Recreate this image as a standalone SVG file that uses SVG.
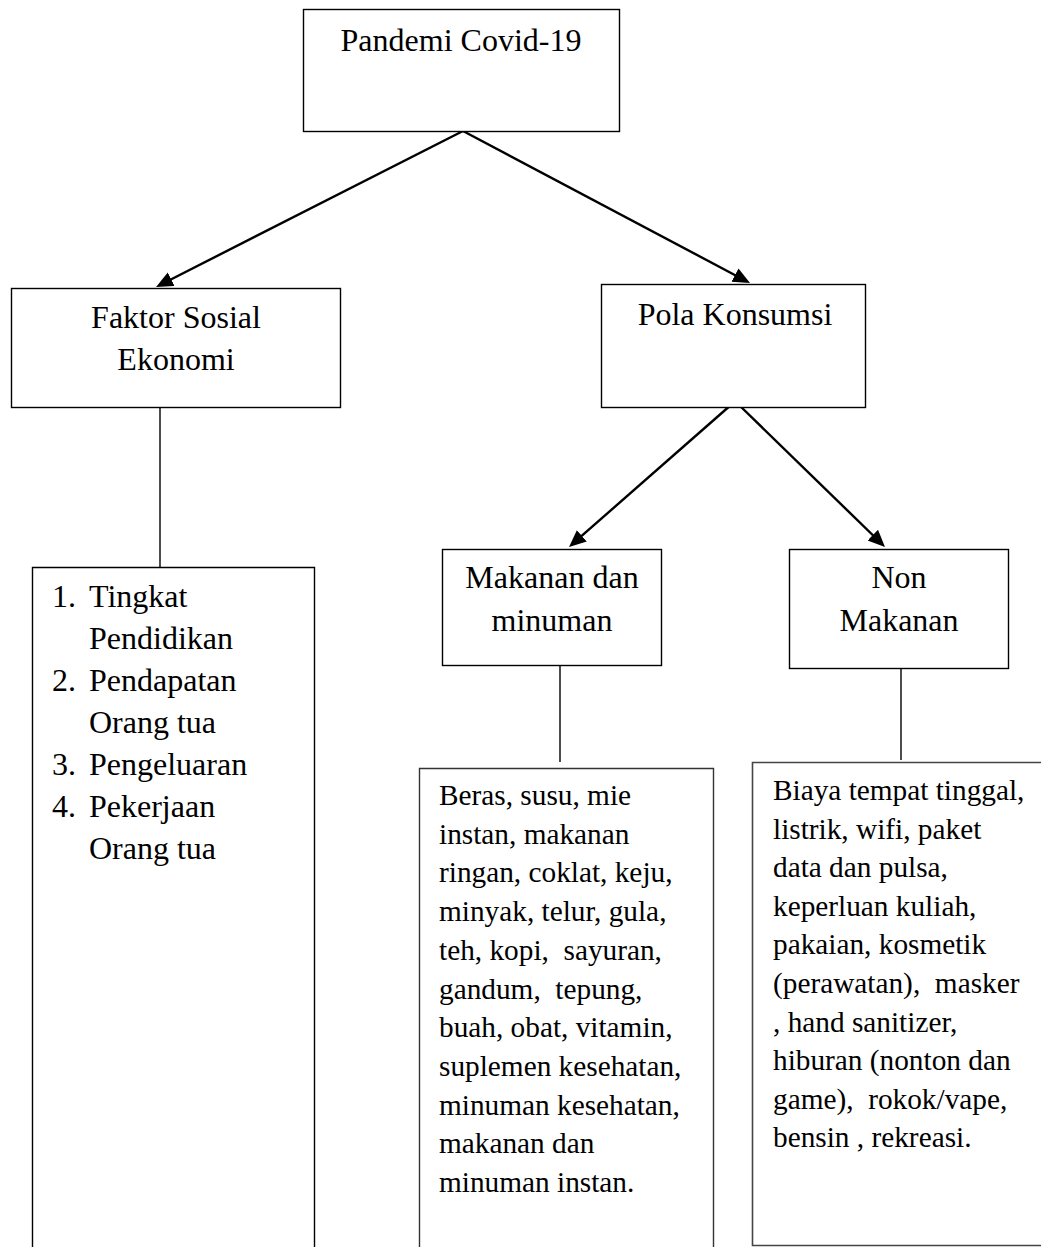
<svg xmlns="http://www.w3.org/2000/svg" width="1041" height="1247" viewBox="0 0 1041 1247">
<style>
  .box { fill: #fff; stroke: #000; stroke-width: 1.4; }
  .gbox { fill: #fff; stroke: #444; stroke-width: 1.6; }
  .t { font-family: "Liberation Serif", "Times New Roman", serif; font-size: 32px; fill: #000; }
  .c { text-anchor: middle; }
  .s { font-family: "Liberation Serif", "Times New Roman", serif; font-size: 29.3px; fill: #000; }
  .arrow { stroke: #000; stroke-width: 2.4; fill: none; marker-end: url(#ah); }
  .line { stroke: #000; stroke-width: 1.4; fill: none; }
</style>
<defs>
  <marker id="ah" markerUnits="userSpaceOnUse" markerWidth="18" markerHeight="16" refX="12" refY="7.5" orient="auto">
    <path d="M0,0 L17,7.5 L0,15 z" fill="#000"/>
  </marker>
</defs>
<rect width="1041" height="1247" fill="#fff"/>

<g id="connectors">
  <line class="arrow" x1="463" y1="131" x2="160.5" y2="284.7"/>
  <line class="arrow" x1="463" y1="131" x2="745.6" y2="280.7"/>
  <line class="arrow" x1="732" y1="404" x2="572.8" y2="543.7"/>
  <line class="arrow" x1="738" y1="404" x2="881.4" y2="543.5"/>
  <line class="line" x1="160" y1="407" x2="160" y2="567"/>
  <line class="line" x1="560" y1="665" x2="560" y2="762"/>
  <line class="line" x1="901" y1="663" x2="901" y2="760"/>
</g>

<g id="pandemi">
  <rect class="box" x="303.5" y="9.5" width="316" height="122"/>
  <text class="t c" x="461" y="51">Pandemi Covid-19</text>
</g>

<g id="faktor">
  <rect class="box" x="11.5" y="288.5" width="329" height="119"/>
  <text class="t c" x="176" y="328">Faktor Sosial</text>
  <text class="t c" x="176" y="370">Ekonomi</text>
</g>

<g id="pola">
  <rect class="box" x="601.5" y="284.5" width="264" height="123"/>
  <text class="t c" x="735" y="325">Pola Konsumsi</text>
</g>

<g id="makanan">
  <rect class="box" x="442.5" y="549.5" width="219" height="116"/>
  <text class="t c" x="552" y="588">Makanan dan</text>
  <text class="t c" x="552" y="631">minuman</text>
</g>

<g id="nonmakanan">
  <rect class="box" x="789.5" y="549.5" width="219" height="119"/>
  <text class="t c" x="899" y="588">Non</text>
  <text class="t c" x="899" y="631">Makanan</text>
</g>

<g id="faktor-list">
  <path class="line" d="M32.5,1250 V567.5 H314.5 V1250"/>
  <text class="t" x="52" y="607">1.</text>
  <text class="t" x="89" y="607">Tingkat</text>
  <text class="t" x="89" y="649">Pendidikan</text>
  <text class="t" x="52" y="691">2.</text>
  <text class="t" x="89" y="691">Pendapatan</text>
  <text class="t" x="89" y="733">Orang tua</text>
  <text class="t" x="52" y="775">3.</text>
  <text class="t" x="89" y="775">Pengeluaran</text>
  <text class="t" x="52" y="817">4.</text>
  <text class="t" x="89" y="817">Pekerjaan</text>
  <text class="t" x="89" y="859">Orang tua</text>
</g>

<g id="makanan-list">
  <path class="line" style="stroke:#333" d="M419.5,1250 V768.5 H713.5 V1250"/>
  <text class="s" x="439" y="805" xml:space="preserve">Beras, susu, mie</text>
  <text class="s" x="439" y="843.7" xml:space="preserve">instan, makanan</text>
  <text class="s" x="439" y="882.4" xml:space="preserve">ringan, coklat, keju,</text>
  <text class="s" x="439" y="921.1" xml:space="preserve">minyak, telur, gula,</text>
  <text class="s" x="439" y="959.8" xml:space="preserve">teh, kopi,  sayuran,</text>
  <text class="s" x="439" y="998.5" xml:space="preserve">gandum,  tepung,</text>
  <text class="s" x="439" y="1037.2" xml:space="preserve">buah, obat, vitamin,</text>
  <text class="s" x="439" y="1075.9" xml:space="preserve">suplemen kesehatan,</text>
  <text class="s" x="439" y="1114.6" xml:space="preserve">minuman kesehatan,</text>
  <text class="s" x="439" y="1153.3" xml:space="preserve">makanan dan</text>
  <text class="s" x="439" y="1192" xml:space="preserve">minuman instan.</text>
</g>

<g id="nonmakanan-list">
  <path class="gbox" style="fill:none" d="M1045,762.5 H752.5 V1245.5 H1045"/>
  <text class="s" x="773" y="800" xml:space="preserve">Biaya tempat tinggal,</text>
  <text class="s" x="773" y="838.6" xml:space="preserve">listrik, wifi, paket</text>
  <text class="s" x="773" y="877.2" xml:space="preserve">data dan pulsa,</text>
  <text class="s" x="773" y="915.8" xml:space="preserve">keperluan kuliah,</text>
  <text class="s" x="773" y="954.4" xml:space="preserve">pakaian, kosmetik</text>
  <text class="s" x="773" y="993" xml:space="preserve">(perawatan),  masker</text>
  <text class="s" x="773" y="1031.6" xml:space="preserve">, hand sanitizer,</text>
  <text class="s" x="773" y="1070.2" xml:space="preserve">hiburan (nonton dan</text>
  <text class="s" x="773" y="1108.8" xml:space="preserve">game),  rokok/vape,</text>
  <text class="s" x="773" y="1147.4" xml:space="preserve">bensin , rekreasi.</text>
</g>
</svg>
